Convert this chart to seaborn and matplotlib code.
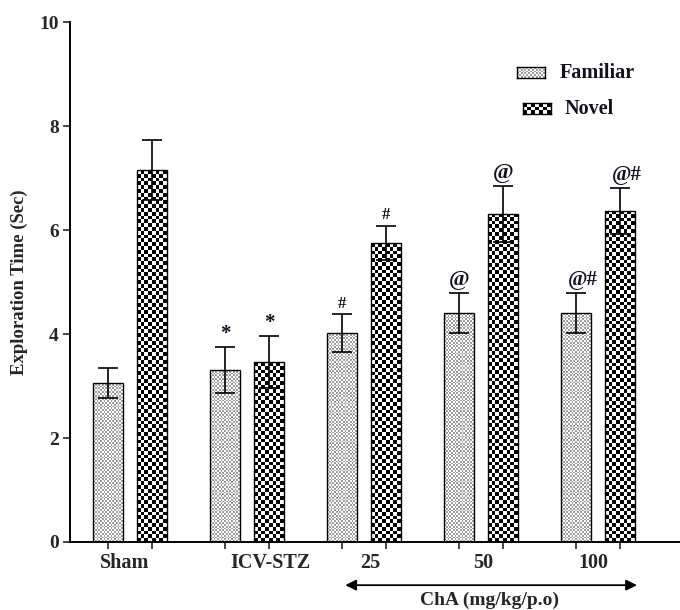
import numpy as np
import pandas as pd
import matplotlib
matplotlib.use("Agg")
import matplotlib.pyplot as plt
import seaborn as sns

groups = ["Sham", "ICV-STZ", "25", "50", "100"]
series = ["Familiar", "Novel"]
familiar = [3.06, 3.31, 4.02, 4.40, 4.40]
novel = [7.15, 3.46, 5.75, 6.31, 6.37]
familiar_sem = [0.29, 0.44, 0.36, 0.39, 0.39]
novel_sem = [0.58, 0.50, 0.33, 0.54, 0.44]
familiar_sig = ["", "*", "#", "@", "@#"]
novel_sig = ["", "*", "#", "@", "@#"]
yticks = [0, 2, 4, 6, 8, 10]

sns.set_style("ticks")
plt.rcParams["font.family"] = ["Liberation Serif", "DejaVu Serif"]
plt.rcParams["font.weight"] = "bold"

df = pd.DataFrame({
    "group": groups * 2,
    "series": [series[0]] * len(groups) + [series[1]] * len(groups),
    "value": familiar + novel,
})

fig = plt.figure(figsize=(6.8, 6.1), dpi=100)
ax = fig.add_axes([70 / 680, 1 - 542 / 610, 610 / 680, 520 / 610])

sns.barplot(data=df, x="group", y="value", hue="series", order=groups,
            hue_order=series, width=0.752, gap=0.32, errorbar=None,
            palette=["white", "white"], edgecolor="black",
            linewidth=1.0, legend=False, ax=ax)

ax.set_xlim(-0.513, 4.701)
ax.set_ylim(0, 10)

def checker(nr, nc, lo, hi):
    r = np.arange(nr)[:, None]
    c = np.arange(nc)[None, :]
    return np.where((r + c) % 2 == 0, lo, hi)

px_per_x = 610 / (4.701 + 0.513)
px_per_y = 52.0

fam_patches = ax.containers[0]
nov_patches = ax.containers[1]

def fill(patch, cell_px, lo, hi):
    x0 = patch.get_x(); w = patch.get_width(); h = patch.get_height()
    nc = max(1, int(round(w * px_per_x / cell_px)))
    nr = max(1, int(round(h * px_per_y / cell_px)))
    img = checker(nr, nc, lo, hi)
    im = ax.imshow(img, cmap="gray", vmin=0, vmax=1, extent=(x0, x0 + w, 0, h),
                   origin="lower", aspect="auto", interpolation="nearest", zorder=0.5)
    im.set_clip_path(patch)
    patch.set_facecolor("none")
    patch.set_zorder(1)

for p in fam_patches:
    fill(p, 1.8, 1.0, 0.62)
for p in nov_patches:
    fill(p, 3.8, 0.0, 1.0)

ax.set_xlim(-0.513, 4.701)
ax.set_ylim(0, 10)

fam_x = [p.get_x() + p.get_width() / 2 for p in fam_patches]
nov_x = [p.get_x() + p.get_width() / 2 for p in nov_patches]

ax.errorbar(fam_x, familiar, yerr=familiar_sem, fmt="none", ecolor="black",
            elinewidth=1.2, capsize=7, capthick=1.2, zorder=3)
ax.errorbar(nov_x, novel, yerr=novel_sem, fmt="none", ecolor="black",
            elinewidth=1.2, capsize=7, capthick=1.2, zorder=3)

sig_sizes = {"*": 15, "#": 12, "@": 16, "@#": 15}
for xs, vals, sems, sigs in [(fam_x, familiar, familiar_sem, familiar_sig),
                             (nov_x, novel, novel_sem, novel_sig)]:
    for x, v, e, s in zip(xs, vals, sems, sigs):
        if s:
            ax.text(x + (0.06 if s == "@#" else 0), v + e + 0.05, s, ha="center",
                    va="bottom", fontsize=sig_sizes[s], fontweight="bold",
                    color="#111122")

# axes styling
sns.despine(ax=ax)
for sp in ["left", "bottom"]:
    ax.spines[sp].set_linewidth(1.4)
    ax.spines[sp].set_color("black")
ax.set_yticks(yticks)
ax.set_yticklabels([str(t) for t in yticks], fontsize=14, fontweight="bold")
ax.tick_params(axis="y", length=5, width=1.2, direction="out", pad=3)

bar_centers = sorted(fam_x + nov_x)
ax.set_xticks(bar_centers)
ax.set_xticklabels([""] * len(bar_centers))
ax.tick_params(axis="x", which="major", length=5, width=1.2, direction="out")
label_offsets = [-0.05, 0.2, 0.05, 0.02, -0.04]
ax.set_xticks([i + o for i, o in enumerate(label_offsets)], minor=True)
ax.set_xticklabels(groups, minor=True, fontsize=14.5, fontweight="bold")
ax.tick_params(axis="x", which="minor", length=0, pad=8)

ax.set_xlabel("")
ax.set_ylabel("Exploration Time (Sec)", fontsize=13.5, fontweight="bold", labelpad=8)

# dose arrow
ax.annotate("", xy=(4.333, -0.83), xytext=(1.84, -0.83), xycoords="data",
            annotation_clip=False,
            arrowprops=dict(arrowstyle="<|-|>", color="black", lw=1.3,
                            mutation_scale=16, shrinkA=0, shrinkB=0))
ax.text(3.07, -1.12, "ChA (mg/kg/p.o)", ha="center", va="center",
        fontsize=14, fontweight="bold", clip_on=False)

# legend (manual swatches)
def swatch(x0, y0, w, h, cell, lo, hi, nc):
    sax = fig.add_axes([x0 / 680, 1 - (y0 + h) / 610, w / 680, h / 610])
    nr = max(1, int(round(h / cell)))
    sax.imshow(checker(nr, nc, lo, hi), cmap="gray", vmin=0, vmax=1,
               aspect="auto", interpolation="nearest")
    sax.set_xticks([]); sax.set_yticks([])
    for sp in sax.spines.values():
        sp.set_linewidth(1.0); sp.set_color("black"); sp.set_visible(True)

swatch(517, 67, 28, 11, 1.8, 1.0, 0.62, 15)
swatch(523, 103, 28, 11, 3.8, 0.0, 1.0, 7)
fig.text(560 / 680, 1 - 73 / 610, "Familiar", ha="left", va="center",
         fontsize=14.5, fontweight="bold", color="#111122")
fig.text(565 / 680, 1 - 109 / 610, "Novel", ha="left", va="center",
         fontsize=14.5, fontweight="bold", color="#111122")

fig.savefig("out.png", dpi=100)
